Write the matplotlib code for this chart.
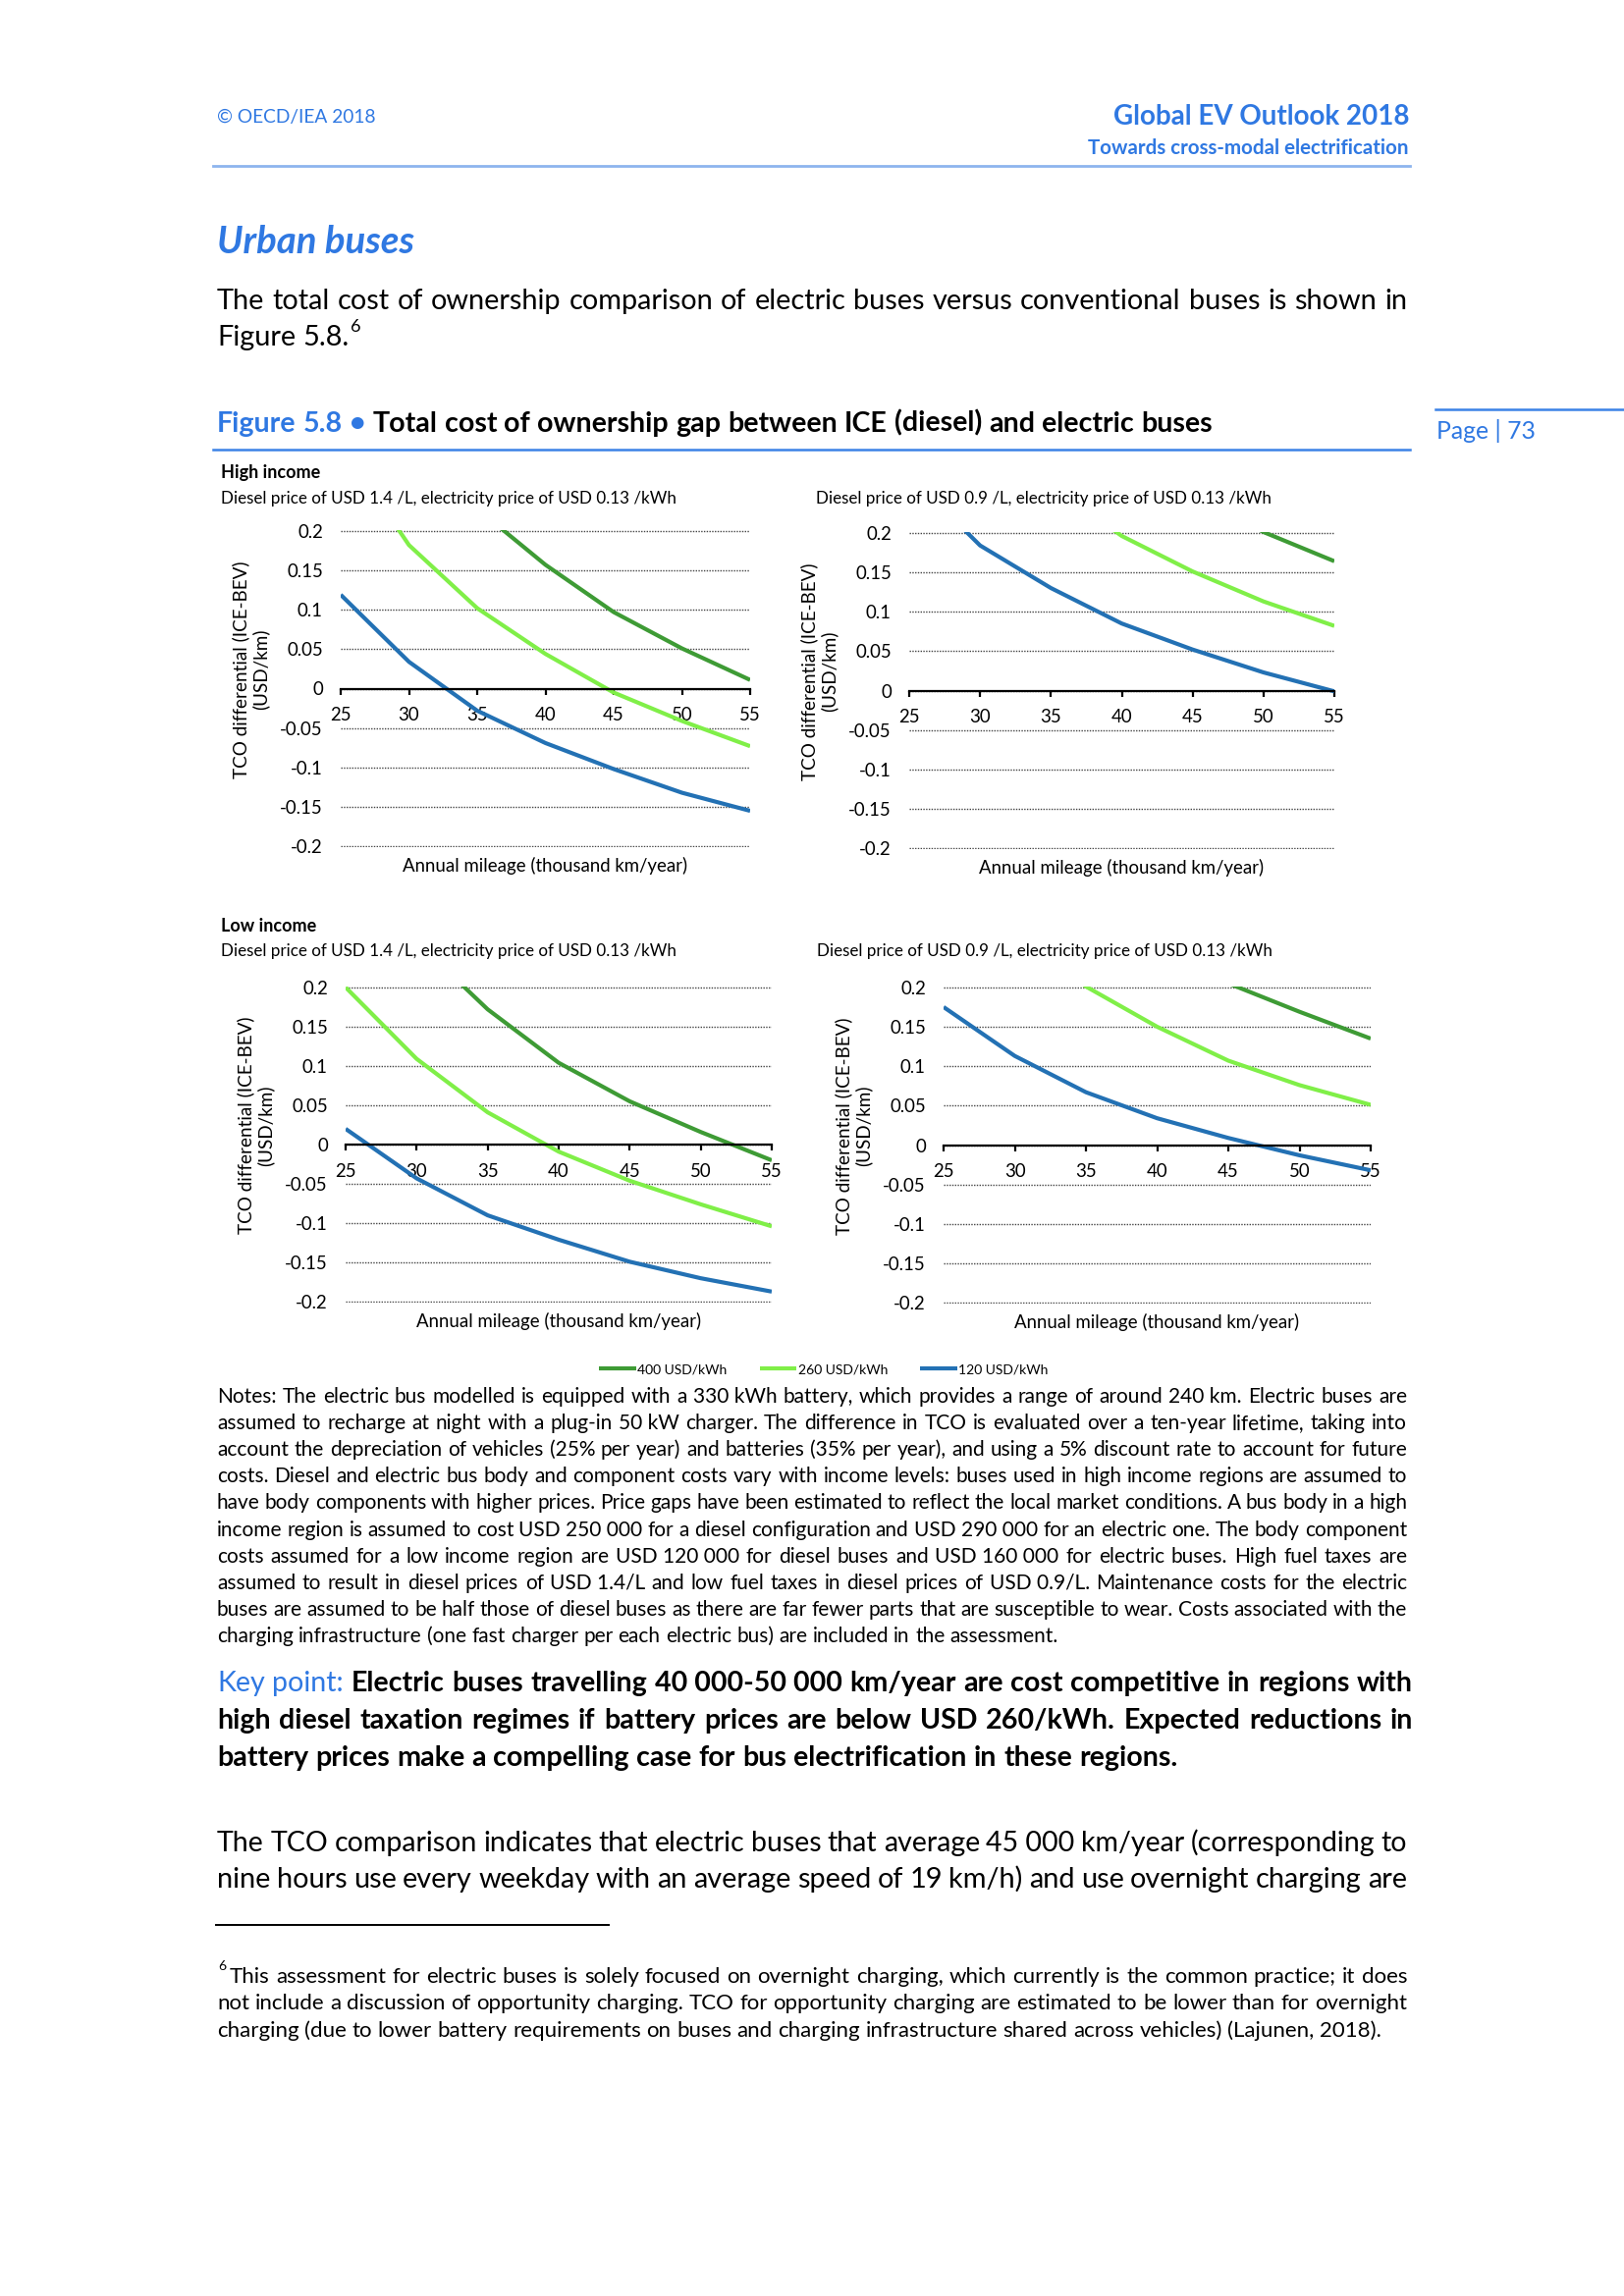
import matplotlib
matplotlib.use('Agg')
import matplotlib.pyplot as plt

W, H = 1654, 2339
DPI = 200

plt.rcParams['font.family'] = ['Lato', 'DejaVu Sans']

# TCO differential (ICE - BEV), USD/km
mileage = [25, 30, 35, 40, 45, 50, 55]

# high income, diesel USD 1.4/L
hi14_400 = [0.45, 0.33, 0.228, 0.157, 0.097, 0.051, 0.011]
hi14_260 = [0.31, 0.182, 0.102, 0.044, -0.005, -0.041, -0.073]
hi14_120 = [0.119, 0.034, -0.028, -0.069, -0.102, -0.132, -0.155]
# high income, diesel USD 0.9/L
hi09_400 = [0.62, 0.50, 0.39, 0.31, 0.25, 0.201, 0.164]
hi09_260 = [0.47, 0.35, 0.26, 0.196, 0.151, 0.113, 0.082]
hi09_120 = [0.273, 0.184, 0.130, 0.085, 0.052, 0.023, -0.001]
# low income, diesel USD 1.4/L
lo14_400 = [0.36, 0.258, 0.172, 0.104, 0.055, 0.016, -0.020]
lo14_260 = [0.200, 0.109, 0.041, -0.009, -0.046, -0.076, -0.104]
lo14_120 = [0.020, -0.043, -0.090, -0.121, -0.149, -0.170, -0.187]
# low income, diesel USD 0.9/L
lo09_400 = [0.54, 0.43, 0.34, 0.26, 0.205, 0.169, 0.135]
lo09_260 = [0.36, 0.27, 0.201, 0.150, 0.107, 0.076, 0.051]
lo09_120 = [0.175, 0.113, 0.067, 0.034, 0.009, -0.013, -0.032]

battery_labels = ['400 USD/kWh', '260 USD/kWh', '120 USD/kWh']
line_colors = ['#3e9b35', '#80ef48', '#2371b4']
yticks = [-0.2, -0.15, -0.1, -0.05, 0, 0.05, 0.1, 0.15, 0.2]
ytick_labels = ['-0.2', '-0.15', '-0.1', '-0.05', '0', '0.05', '0.1', '0.15', '0.2']

sub14 = 'Diesel price of USD 1.4 /L, electricity price of USD 0.13 /kWh'
sub09 = 'Diesel price of USD 0.9 /L, electricity price of USD 0.13 /kWh'
ylab = 'TCO differential (ICE-BEV)\n(USD/km)'
xlab = 'Annual mileage (thousand km/year)'

BLUE = '#2f78e2'

fig = plt.figure(figsize=(W / DPI, H / DPI), dpi=DPI, facecolor='w')
r = fig.canvas.get_renderer()


def T(x, y, s, **kw):
    kw.setdefault('va', 'center')
    return fig.text(x / W, 1 - y / H, s, **kw)


def hline(x0, x1, y, **kw):
    fig.add_artist(plt.Line2D([x0 / W, x1 / W], [1 - y / H, 1 - y / H], **kw))


def put_line(items, y, x0=221, x1=1433, size=10, last=False, **kw):
    # words placed one by one, spread out to fill x0..x1 (justified)
    while True:
        yb = y + 0.34 * size * DPI / 72
        ts = []
        for it in items:
            s, st = (it, {}) if isinstance(it, str) else it
            k = dict(kw)
            k.update(st)
            ts.append(fig.text(0, 1 - yb / H, s, fontsize=size, va='baseline', **k))
        ws = [t.get_window_extent(r).width for t in ts]
        space = 0.25 * size * DPI / 72
        if last or len(ts) < 2:
            gap = space
        else:
            gap = (x1 - x0 - sum(ws)) / (len(ts) - 1)
        if gap > 0.8 * space:
            break
        for t in ts:
            t.remove()
        size *= 0.99
    x = x0
    for t, w in zip(ts, ws):
        t.set_x(x / W)
        x += w + gap
    return x - gap


def paragraph(lines, y0, dy, size, x1=1433, **kw):
    for i, ln in enumerate(lines):
        put_line(ln.split(' '), y0 + i * dy, x1=x1, size=size,
                 last=(i == len(lines) - 1), **kw)


# ---- page header ----
T(221, 120, '\u00a9 OECD/IEA 2018', fontsize=6.9, color=BLUE)
T(1435, 119, 'Global EV Outlook 2018', fontsize=10.0, color=BLUE,
  fontweight='bold', ha='right')
T(1435, 151, 'Towards cross-modal electrification', fontsize=7.4,
  color=BLUE, fontweight='bold', ha='right')
hline(217, 1436, 169, color='#8db4ee', lw=1.0)

T(221, 246, 'Urban buses', fontsize=13.8, color=BLUE, fontweight='bold',
  style='italic')

put_line('The total cost of ownership comparison of electric buses versus '
         'conventional buses is shown in'.split(' '), 305, size=10.4,
         color='black')
xe = put_line(['Figure', '5.8.'], 342, size=10.4, last=True, color='black')
T(xe + 1, 333, '6', fontsize=6.5, color='black')

put_line([('Figure', dict(color=BLUE)), ('5.8', dict(color=BLUE)),
          ('\u2022', dict(color=BLUE)), 'Total', 'cost', 'of', 'ownership',
          'gap', 'between', 'ICE', '(diesel)', 'and', 'electric', 'buses'],
         430, size=10.3, last=True, fontweight='bold', color='black')
hline(217, 1436, 458, color='#3c82e6', lw=0.9)

# page number in the margin
hline(1462, 1654, 417, color='#3c82e6', lw=0.9)
T(1463, 439, 'Page | 73', fontsize=8.9, color=BLUE)

# ---- the four panels ----
panels = [
    ((347, 540, 764, 863), hi14_400, hi14_260, hi14_120),
    ((926, 542, 1359, 865), hi09_400, hi09_260, hi09_120),
    ((352, 1005, 786, 1327), lo14_400, lo14_260, lo14_120),
    ((961, 1005, 1396, 1328), lo09_400, lo09_260, lo09_120),
]
axes = []
for (x0, y0, x1, y1), s400, s260, s120 in panels:
    ax = fig.add_axes([x0 / W, 1 - y1 / H, (x1 - x0) / W, (y1 - y0) / H])
    for vals, c, lab in zip([s400, s260, s120], line_colors, battery_labels):
        ax.plot(mileage, vals, color=c, lw=1.5, label=lab,
                solid_capstyle='butt')
    ax.set_xlim(25, 55)
    ax.set_ylim(-0.201, 0.201)
    ax.set_xticks(mileage)
    ax.set_yticks(yticks)
    ax.set_yticklabels(ytick_labels)
    for sp in ('top', 'right', 'left'):
        ax.spines[sp].set_visible(False)
    ax.spines['bottom'].set_position(('data', 0))
    ax.spines['bottom'].set_linewidth(0.8)
    ax.tick_params(axis='x', direction='out', length=2.2, width=0.8,
                   pad=4.6, labelsize=6.7)
    ax.tick_params(axis='y', length=0, pad=6.5, labelsize=6.7)
    ax.set_axisbelow(True)
    ax.yaxis.grid(True, color='#444444', lw=0.5, ls=(0, (1, 1)))
    ax.patch.set_alpha(0)
    T((x0 + x1) / 2, y1 + 19, xlab, fontsize=6.7, ha='center')
    T(x0 - 92, y0 + 0.44 * (y1 - y0), ylab, fontsize=6.8, ha='center',
      rotation=90, multialignment='center', linespacing=1.15)
    axes.append(ax)

T(225, 482, 'High income', fontsize=6.5, fontweight='bold')
T(225, 508, sub14, fontsize=6.15)
T(831, 508, sub09, fontsize=6.15)
T(225, 944, 'Low income', fontsize=6.5, fontweight='bold')
T(225, 969, sub14, fontsize=6.15)
T(832, 969, sub09, fontsize=6.15)

h, l = axes[0].get_legend_handles_labels()
fig.legend(h, l, loc='center', bbox_to_anchor=(839 / W, 1 - 1395 / H),
           ncol=3, frameon=False, fontsize=5.0, handlelength=2.7,
           handletextpad=0.1, columnspacing=2.4, borderpad=0)

# ---- notes ----
notes = [
    'Notes: The electric bus modelled is equipped with a 330\u00a0kWh battery, which provides a range of around 240\u00a0km. Electric buses are',
    'assumed to recharge at night with a plug-in 50\u00a0kW charger. The difference in TCO is evaluated over a ten-year lifetime, taking into',
    'account the depreciation of vehicles (25% per year) and batteries (35% per year), and using a 5% discount rate to account for future',
    'costs. Diesel and electric bus body and component costs vary with income levels: buses used in high income regions are assumed to',
    'have body components with higher prices. Price gaps have been estimated to reflect the local market conditions. A bus body in a high',
    'income region is assumed to cost USD\u00a0250\u00a0000 for a diesel configuration and USD\u00a0290\u00a0000 for an electric one. The body component',
    'costs assumed for a low income region are USD\u00a0120\u00a0000 for diesel buses and USD\u00a0160\u00a0000 for electric buses. High fuel taxes are',
    'assumed to result in diesel prices of USD\u00a01.4/L and low fuel taxes in diesel prices of USD\u00a00.9/L. Maintenance costs for the electric',
    'buses are assumed to be half those of diesel buses as there are far fewer parts that are susceptible to wear. Costs associated with the',
    'charging infrastructure (one fast charger per each electric bus) are included in the assessment.',
]
paragraph(notes, 1422, 27.1, 7.5, color='black')

# ---- key point ----
kp1 = [('Key', dict(color=BLUE, fontweight='normal')),
       ('point:', dict(color=BLUE, fontweight='normal'))]
kp1 += 'Electric buses travelling 40\u00a0000-50\u00a0000 km/year are cost competitive in regions with'.split(' ')
put_line(kp1, 1713, x1=1439, size=10.3, fontweight='bold', color='black')
put_line('high diesel taxation regimes if battery prices are below USD 260/kWh. Expected reductions in'.split(' '),
         1751, x1=1439, size=10.3, fontweight='bold', color='black')
put_line('battery prices make a compelling case for bus electrification in these regions.'.split(' '),
         1789, x1=1439, size=10.3, fontweight='bold', color='black', last=True)

put_line('The TCO comparison indicates that electric buses that average 45\u00a0000 km/year (corresponding to'.split(' '),
         1876, size=10.4, color='black')
put_line('nine hours use every weekday with an average speed of 19 km/h) and use overnight charging are'.split(' '),
         1913, size=10.4, color='black')

# ---- footnote ----
hline(220, 620, 1961, color='black', lw=0.7)
T(222, 2003, '6', fontsize=5.0, color='black')
put_line('This assessment for electric buses is solely focused on overnight charging, which currently is the common practice; it does'.split(' '),
         2012, x0=234, size=8.0, color='black')
put_line('not include a discussion of opportunity charging. TCO for opportunity charging are estimated to be lower than for overnight'.split(' '),
         2039, size=8.0, color='black')
put_line('charging (due to lower battery requirements on buses and charging infrastructure shared across vehicles) (Lajunen, 2018).'.split(' '),
         2067, size=8.0, color='black', last=True)

fig.savefig('out.png', dpi=DPI, facecolor='w')
